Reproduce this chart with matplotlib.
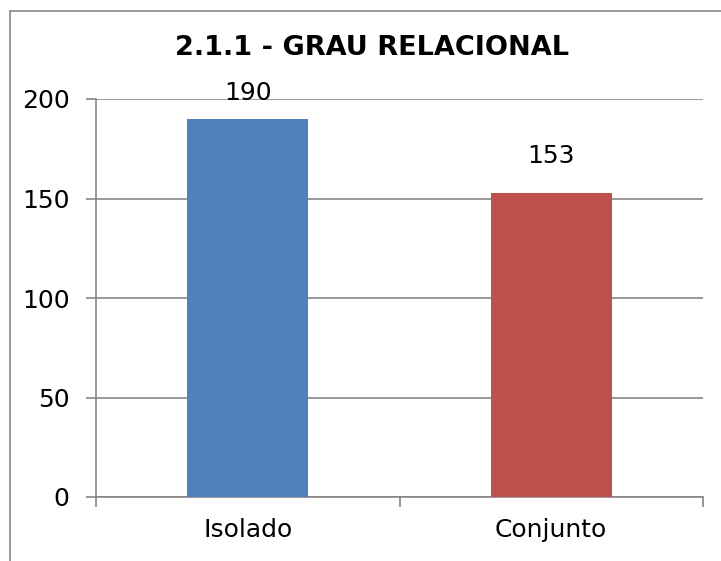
"""
plot.py - Grau relacional (Isolado x Conjunto)
Usage : python plot.py
"""

import matplotlib
matplotlib.use("Agg")
import matplotlib.pyplot as plt
from matplotlib.patches import Rectangle

TITLE      = "2.1.1 - GRAU RELACIONAL"
categories = ["Isolado", "Conjunto"]
values     = [190, 153]
y_ticks    = [0, 50, 100, 150, 200]

COLORS = ["#4F81BD", "#C0504D"]
GREY   = "#868686"

plt.rcParams.update({
    "font.family": "DejaVu Sans",
})

fig = plt.figure(figsize=(7.21, 5.61), dpi=100)
ax = fig.add_axes([96 / 721, 64 / 561, 607 / 721, 398 / 561])

x = list(range(len(categories)))
bars = ax.bar(x, values, width=0.40, color=COLORS, zorder=3)

# etiquettes de valeur (decalage en points, comme dans Excel)
offsets = [10, 18]
for rect, val, off in zip(bars, values, offsets):
    ax.annotate(str(val),
                xy=(rect.get_x() + rect.get_width() / 2, rect.get_height()),
                xytext=(0, off), textcoords="offset points",
                ha="center", va="bottom", fontsize=18, color="black")

ax.set_xlim(-0.5, len(categories) - 0.5)
ax.set_ylim(0, 200)
ax.set_yticks(y_ticks)
ax.set_yticklabels([str(t) for t in y_ticks])
ax.yaxis.grid(True, color=GREY, linewidth=1.2, zorder=0)

# separateurs de categories en ticks majeurs, noms en ticks mineurs
ax.set_xticks([i - 0.5 for i in range(len(categories) + 1)])
ax.set_xticklabels([])
ax.set_xticks(x, minor=True)
ax.set_xticklabels(categories, minor=True)
ax.tick_params(axis="x", which="major", length=7, width=1.2, color=GREY, direction="out")
ax.tick_params(axis="x", which="minor", length=0, pad=15, labelsize=18)
ax.tick_params(axis="y", length=7, width=1.2, color=GREY, direction="out",
               pad=12, labelsize=18)

for side in ["top", "right"]:
    ax.spines[side].set_visible(False)
for side in ["left", "bottom"]:
    ax.spines[side].set_color(GREY)
    ax.spines[side].set_linewidth(1.2)

fig.text(372 / 721, 1 - 48 / 561, TITLE, ha="center", va="center",
         fontsize=19.5, fontweight="bold")

# cadre du graphique (coupe en bas et a droite dans l'original)
fig.patches.append(Rectangle((9.5 / 721, -0.2), 2.0, 1.2 - 11 / 561,
                             transform=fig.transFigure, fill=False,
                             edgecolor=GREY, linewidth=1.2))

fig.savefig("out.png", dpi=100)
